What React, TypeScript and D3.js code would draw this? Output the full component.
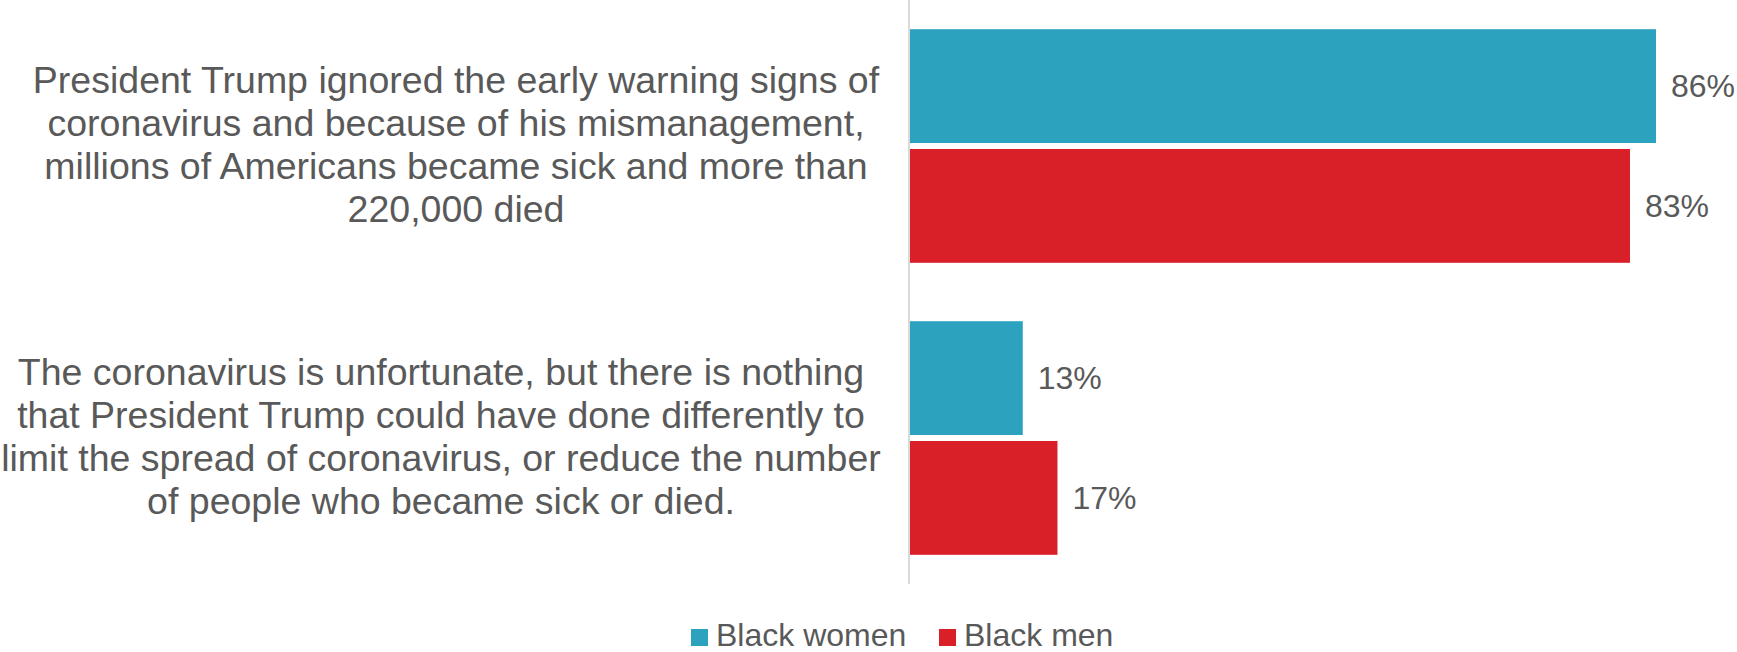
import React from "react";
import * as d3 from "d3";

const categories = [
  "President Trump ignored the early warning signs of coronavirus and because of his mismanagement, millions of Americans became sick and more than 220,000 died",
  "The coronavirus is unfortunate, but there is nothing that President Trump could have done differently to limit the spread of coronavirus, or reduce the number of people who became sick or died.",
];
const categoryLines = [
  [
    "President Trump ignored the early warning signs of",
    "coronavirus and because of his mismanagement,",
    "millions of Americans became sick and more than",
    "220,000 died",
  ],
  [
    "The coronavirus is unfortunate, but there is nothing",
    "that President Trump could have done differently to",
    "limit the spread of coronavirus, or reduce the number",
    "of people who became sick or died.",
  ],
];
const seriesNames = ["Black women", "Black men"];
const blackWomen = [86, 13];
const blackMen = [83, 17];
const seriesColors = ["#2CA2BF", "#D91F28"];

const W = 1737;
const H = 652;
const FONT = "'Liberation Sans', Arial, Helvetica, sans-serif";
const TEXT = "#595959";

export default function App() {
  const values = [blackWomen, blackMen];
  const x0 = 910;
  const x = d3.scaleLinear().domain([0, 86]).range([x0, 1656]);
  const y = d3
    .scaleBand<string>()
    .domain(categories)
    .range([0, 584])
    .paddingInner(0.2)
    .paddingOuter(0.1);
  const ySub = d3
    .scaleBand<string>()
    .domain(seriesNames)
    .range([0, y.bandwidth()])
    .paddingInner(0.05);
  const labelCenters = [456, 441];
  const lineH = 43.3;

  return (
    <svg
      width={W}
      height={H}
      style={{ position: "absolute", left: 0, top: 0, background: "#fff" }}
      fontFamily={FONT}
    >
      <rect x={0} y={0} width={W} height={H} fill="#fff" />
      {categories.map((c, ci) => {
        const bandTop = y(c)!;
        const cy = bandTop + y.bandwidth() / 2;
        return (
          <g key={c}>
            {seriesNames.map((s, si) => {
              const v = values[si][ci];
              const by = bandTop + ySub(s)!;
              return (
                <g key={s}>
                  <rect
                    x={x(0)}
                    y={by}
                    width={x(v) - x(0)}
                    height={ySub.bandwidth()}
                    fill={seriesColors[si]}
                  />
                  <text
                    x={x(v) + 15}
                    y={by + ySub.bandwidth() / 2}
                    dy="0.35em"
                    fontSize={32}
                    fill={TEXT}
                  >
                    {v}%
                  </text>
                </g>
              );
            })}
            <text textAnchor="middle" fontSize={37.5} fill={TEXT}>
              {categoryLines[ci].map((ln, li) => (
                <tspan
                  key={li}
                  x={labelCenters[ci]}
                  y={cy + (li - (categoryLines[ci].length - 1) / 2) * lineH + 11.5}
                >
                  {ln}
                </tspan>
              ))}
            </text>
          </g>
        );
      })}
      <line x1={x0 - 1} x2={x0 - 1} y1={0} y2={584} stroke="#D9D9D9" strokeWidth={2} />
      <g>
        {seriesNames.map((s, si) => {
          const lx = [691, 939][si];
          return (
            <g key={s}>
              <rect x={lx} y={629} width={17} height={17} fill={seriesColors[si]} />
              <text x={lx + 25} y={645.5} fontSize={32} fill={TEXT}>
                {s}
              </text>
            </g>
          );
        })}
      </g>
    </svg>
  );
}
